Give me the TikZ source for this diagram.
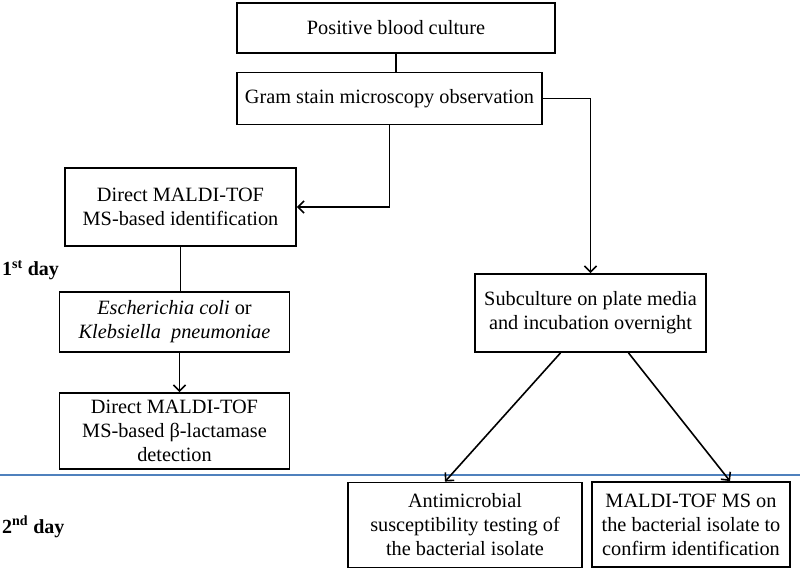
\documentclass[tikz,border=0pt]{standalone}
\usepackage{fontspec}
\setmainfont{Liberation Serif}
\usepackage{tikz}
\usetikzlibrary{arrows.meta}
\definecolor{dayline}{RGB}{79,129,189}

\begin{document}
\begin{tikzpicture}[x=1pt,y=-1pt]
\tikzset{box/.style = {shape=rectangle,draw,line width=1.8pt,align=center,inner sep=0pt,
  font=\fontsize{20.3}{24}\selectfont}}
\tikzset{edge/.style = {-,line width=1.6pt}}
\tikzset{arrow/.style = {-{Straight Barb[length=6pt,width=12pt,line width=1.6pt]},line width=1.6pt}}
\tikzset{day/.style = {anchor=west,inner sep=0pt,font=\fontsize{20}{24}\selectfont\bfseries}}
\useasboundingbox (0,0) rectangle (800,569);
% boxes
\node[box,minimum width=318pt,minimum height=50pt] (b1) at (396,28) {Positive blood culture};
\node[box,minimum width=305pt,minimum height=52pt] (b2) at (389.5,98.5) {Gram stain microscopy observation};
\node[box,minimum width=231pt,minimum height=78pt] (b3) at (180.5,207) {Direct MALDI-TOF\\MS-based identification};
\node[box,minimum width=230pt,minimum height=60pt] (b4) at (174.5,322) {\textit{Escherichia coli} or\\\textit{Klebsiella\ \ pneumoniae}};
\node[box,minimum width=230pt,minimum height=76pt] (b5) at (174.5,431) {Direct MALDI-TOF\\MS-based β-lactamase\\detection};
\node[box,minimum width=231pt,minimum height=78pt] (b6) at (590.5,313) {Subculture on plate media\\and incubation overnight};
\node[box,minimum width=234pt,minimum height=85pt] (b7) at (465,525) {Antimicrobial\\susceptibility testing of\\the bacterial isolate};
\node[box,minimum width=198pt,minimum height=85pt] (b8) at (691,524.5) {MALDI-TOF MS on\\the bacterial isolate to\\confirm identification};
% days
\node[day] (d1) at (2,270) {1\textsuperscript{st} day};
\node[day] (d2) at (2,527) {2\textsuperscript{nd} day};
\coordinate (l1) at (0,475);
\coordinate (l2) at (800,475);
\draw[dayline,line width=2.5pt] (l1) -- (l2);
% edges
\draw[edge] (b1.south) -- (b1.south |- b2.north);
\draw[arrow] (b2.east) -| (b6.north);
\draw[arrow] (b2.south) |- (b3.east);
\draw[edge] (b3.south) -- (b3.south |- b4.north);
\draw[arrow] ([xshift=5pt]b4.south) -- ([xshift=5pt]b5.north);
\draw[arrow] ([xshift=-30pt]b6.south) -- ([xshift=-20pt]b7.north);
\draw[arrow] ([xshift=38pt]b6.south) -- ([xshift=39pt]b8.north);
\end{tikzpicture}
\end{document}
